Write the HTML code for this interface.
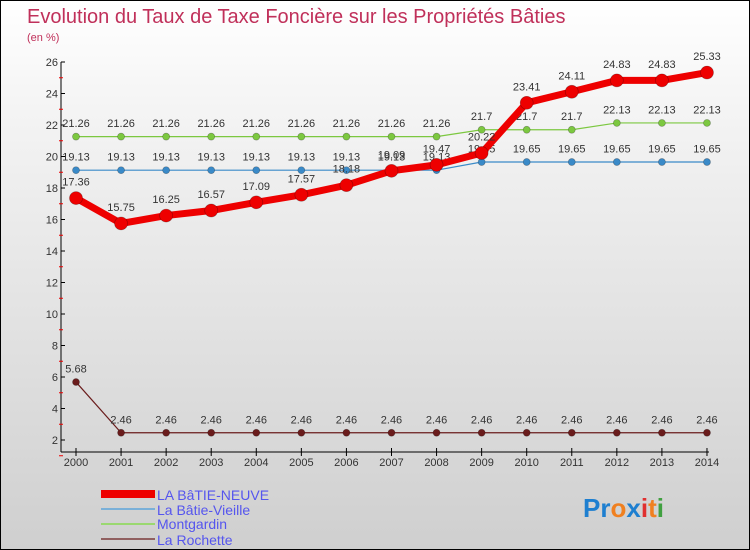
<!DOCTYPE html>
<html><head><meta charset="utf-8"><style>
body{margin:0}
#c{width:748px;height:548px;border:1px solid #000;background:linear-gradient(#fff,#f4f4f4 20%,#cfcfcf);position:relative;overflow:hidden;font-family:"Liberation Sans",sans-serif}
svg{position:absolute;left:0;top:0}
</style></head><body>
<div id="c">
<svg id="s" width="748" height="548">
<text x="26" y="22" font-size="20" fill="#c0305a">Evolution du Taux de Taxe Foncière sur les Propriétés Bâties</text>
<text x="26" y="40" font-size="11" fill="#c0305a">(en %)</text>
<g id="g"></g>
<g>
<rect x="100" y="489" width="54" height="8" fill="#e00"/>
<text x="156" y="499" font-size="14" fill="#55e">LA BâTIE-NEUVE</text>
<line x1="100" x2="154" y1="508" y2="508" stroke="#7ab0d8" stroke-width="2"/>
<text x="156" y="514" font-size="14" fill="#55e">La Bâtie-Vieille</text>
<line x1="100" x2="154" y1="523" y2="523" stroke="#9ad870" stroke-width="2"/>
<text x="156" y="528" font-size="14" fill="#55e">Montgardin</text>
<line x1="100" x2="154" y1="538" y2="538" stroke="#906060" stroke-width="2"/>
<text x="156" y="544" font-size="14" fill="#55e">La Rochette</text>
</g>
<text x="582" y="516" font-size="26" font-weight="bold"><tspan fill="#1e7fd0">Pr</tspan><tspan fill="#f08020">o</tspan><tspan fill="#1e7fd0">x</tspan><tspan fill="#e03030">i</tspan><tspan fill="#f08020">t</tspan><tspan fill="#40a040">i</tspan></text>
</svg>
</div>
<script>
const years=[2000,2001,2002,2003,2004,2005,2006,2007,2008,2009,2010,2011,2012,2013,2014];
const batieNeuve=[17.36,15.75,16.25,16.57,17.09,17.57,18.18,19.09,19.47,20.22,23.41,24.11,24.83,24.83,25.33];
const batieVieille=[19.13,19.13,19.13,19.13,19.13,19.13,19.13,19.13,19.13,19.65,19.65,19.65,19.65,19.65,19.65];
const montgardin=[21.26,21.26,21.26,21.26,21.26,21.26,21.26,21.26,21.26,21.7,21.7,21.7,22.13,22.13,22.13];
const laRochette=[5.68,2.46,2.46,2.46,2.46,2.46,2.46,2.46,2.46,2.46,2.46,2.46,2.46,2.46,2.46];
const yTicks=[2,4,6,8,10,12,14,16,18,20,22,24,26];
const NS='http://www.w3.org/2000/svg';
const g=document.getElementById('g');
const X=i=>75+i*45.07;
const Y=v=>61+(26-v)*15.75;
function mk(t,a){const e=document.createElementNS(NS,t);for(const k in a)e.setAttribute(k,a[k]);g.appendChild(e);return e;}
let e;
e=mk('line',{x1:60,x2:60,y1:61,y2:451,stroke:'#000'});


e=mk('line',{x1:60,x2:708,y1:451,y2:451,stroke:'#000'});


yTicks.forEach(v=>{
 e=mk('line',{x1:60,x2:64,y1:Y(v),y2:Y(v),stroke:'#000'});
 
 
 e=mk('line',{x1:58,x2:62,y1:Y(v-1),y2:Y(v-1),stroke:'#e00'});
 
 
 e=mk('text',{x:57,y:Y(v)+4,'font-size':11,fill:'#333','text-anchor':'end'});e.textContent=v;
 
 
});
years.forEach((yr,i)=>{
 e=mk('line',{x1:X(i),x2:X(i),y1:447,y2:455,stroke:'#000'});
 
 
 e=mk('text',{x:X(i),y:465,'font-size':11,fill:'#333','text-anchor':'middle'});e.textContent=yr;
 
 
});
function series(vals,color,w,r,name){
 e=mk('polyline',{points:vals.map((v,i)=>X(i)+','+Y(v)).join(' '),fill:'none',stroke:color,'stroke-width':w,'stroke-linejoin':'round'});
 
 
 vals.forEach((v,i)=>{
  e=mk('circle',{cx:X(i),cy:Y(v),r:r,fill:color,stroke:'rgba(0,0,0,0.3)','stroke-width':0.7});
  
  
  e=mk('text',{x:X(i),y:Y(v)-(r+6),'font-size':11,fill:'#333','text-anchor':'middle'});e.textContent=v;
  
  
 });
}
series(laRochette,'#6a1c1c',1.2,3.5,'la-rochette');
series(montgardin,'#7cc840',1.2,3.5,'montgardin');
series(batieVieille,'#3a8ac8',1.2,3.5,'batie-vieille');
series(batieNeuve,'#ee0000',7,6.5,'batie-neuve');
</script>
</body></html>
